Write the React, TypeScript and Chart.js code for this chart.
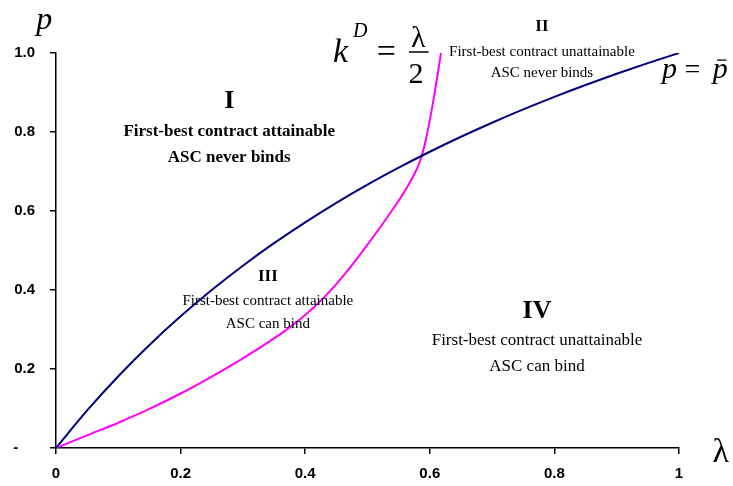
import React, { useEffect, useRef } from "react";
import { Chart, registerables } from "chart.js";

Chart.register(...registerables);

// λ grid and the p = p̄ boundary
const lambdaGrid = [0, 0.05, 0.1, 0.15, 0.2, 0.25, 0.3, 0.35, 0.4, 0.45, 0.5, 0.55, 0.6, 0.65, 0.7, 0.75, 0.8, 0.85, 0.9, 0.95, 1];
const pBarCurve = [0, 0.0952, 0.1818, 0.2609, 0.3333, 0.4, 0.4615, 0.5185, 0.5714, 0.6207, 0.6667, 0.7097, 0.75, 0.7879, 0.8235, 0.8571, 0.8889, 0.9189, 0.9474, 0.9744, 1];

// k^D = λ/2 boundary
const kLambda = [0, 0.05, 0.1, 0.15, 0.2, 0.25, 0.3, 0.35, 0.375, 0.4, 0.425, 0.45, 0.475, 0.5, 0.525, 0.55, 0.565, 0.575, 0.585, 0.595, 0.605, 0.618];
const kCurve = [0, 0.032, 0.064, 0.099, 0.138, 0.181, 0.227, 0.2775, 0.3055, 0.337, 0.373, 0.415, 0.463, 0.515, 0.569, 0.626, 0.664, 0.693, 0.729, 0.79, 0.873, 1.0];

const xTicks = [0, 0.2, 0.4, 0.6, 0.8, 1];
const yTicks = [0, 0.2, 0.4, 0.6, 0.8, 1];

const regionTitles = ["I", "II", "III", "IV"];
const regionLine1 = [
  "First-best contract attainable",
  "First-best contract unattainable",
  "First-best contract attainable",
  "First-best contract unattainable",
];
const regionLine2 = ["ASC never binds", "ASC never binds", "ASC can bind", "ASC can bind"];

const SERIF = '"Liberation Serif", "Times New Roman", serif';
const SANS = '"Liberation Sans", Arial, sans-serif';

const textPlugin = {
  id: "regionText",
  afterDraw(chart: any) {
    const ctx = chart.ctx as CanvasRenderingContext2D;
    const xs = chart.scales.x;
    const ys = chart.scales.y;
    const X = (v: number) => xs.getPixelForValue(v);
    const Y = (v: number) => ys.getPixelForValue(v);
    ctx.save();
    ctx.fillStyle = "#000";
    ctx.strokeStyle = "#000";

    const put = (t: string, x: number, y: number, font: string, align: CanvasTextAlign = "center", base: CanvasTextBaseline = "middle") => {
      ctx.font = font;
      ctx.textAlign = align;
      ctx.textBaseline = base;
      ctx.fillText(t, x, y);
    };

    // region labels
    const places = [
      { x: 0.278, y: [0.878, 0.8, 0.734], f: ["bold 26px", "bold 17px", "bold 17px"] },
      { x: 0.78, y: [1.066, 1.003, 0.949], f: ["bold 17px", "15px", "15px"] },
      { x: 0.34, y: [0.433, 0.372, 0.314], f: ["bold 17px", "15px", "15px"] },
      { x: 0.772, y: [0.347, 0.271, 0.205], f: ["bold 26px", "17px", "17px"] },
    ];
    places.forEach((pl, i) => {
      const lines = [regionTitles[i], regionLine1[i], regionLine2[i]];
      lines.forEach((t, j) => put(t, X(pl.x), Y(pl.y[j]), `${pl.f[j]} ${SERIF}`));
    });

    // axis symbols
    put("p", X(-0.019), Y(1.061), `italic 32px ${SERIF}`, "center", "alphabetic");
    put("λ", X(1.067), Y(-0.035), `34px ${SERIF}`, "center", "alphabetic");

    // k^D = λ/2
    put("k", X(0.4446), Y(0.977), `italic 34px ${SERIF}`, "left", "alphabetic");
    put("D", X(0.4767), Y(1.0405), `italic 20px ${SERIF}`, "left", "alphabetic");
    put("=", X(0.515), Y(0.977), `34px ${SERIF}`, "left", "alphabetic");
    put("λ", X(0.5815), Y(1.015), `30px ${SERIF}`, "center", "alphabetic");
    put("2", X(0.578), Y(0.924), `30px ${SERIF}`, "center", "alphabetic");
    ctx.lineWidth = 1.5;
    ctx.beginPath();
    ctx.moveTo(X(0.5666), Y(1.0025));
    ctx.lineTo(X(0.598), Y(1.0025));
    ctx.stroke();

    // p = p̄
    put("p", X(0.9727), Y(0.937), `italic 30px ${SERIF}`, "left", "alphabetic");
    put("=", X(1.009), Y(0.937), `28px ${SERIF}`, "left", "alphabetic");
    put("p", X(1.054), Y(0.937), `italic 30px ${SERIF}`, "left", "alphabetic");
    ctx.lineWidth = 1.3;
    ctx.beginPath();
    ctx.moveTo(X(1.061), Y(0.982));
    ctx.lineTo(X(1.076), Y(0.982));
    ctx.stroke();

    ctx.restore();
  },
};

export default function App() {
  const ref = useRef<HTMLCanvasElement | null>(null);

  useEffect(() => {
    if (!ref.current) return;
    const fixPad = (s: any) => {
      s.paddingLeft = 0;
      s.paddingRight = 0;
      s.paddingTop = 0;
      s.paddingBottom = 0;
    };
    const chart = new Chart(ref.current, {
      type: "line",
      data: {
        datasets: [
          {
            label: "p = p̄",
            data: lambdaGrid.map((x, i) => ({ x, y: pBarCurve[i] })),
            borderColor: "#000080",
            borderWidth: 2,
            pointRadius: 0,
            cubicInterpolationMode: "monotone",
            fill: false,
          },
          {
            label: "k^D = λ/2",
            data: kLambda.map((x, i) => ({ x, y: kCurve[i] })),
            borderColor: "#FF00FF",
            borderWidth: 2,
            pointRadius: 0,
            cubicInterpolationMode: "monotone",
            fill: false,
          },
        ],
      },
      options: {
        animation: false,
        responsive: false,
        devicePixelRatio: 1,
        layout: { padding: { left: 0, top: 53, right: 54, bottom: 0 } },
        plugins: { legend: { display: false }, tooltip: { enabled: false } },
        scales: {
          x: {
            type: "linear",
            min: 0,
            max: 1,
            afterBuildTicks: (s: any) => {
              s.ticks = xTicks.map((value) => ({ value }));
            },
            afterFit: (s: any) => {
              s.height = 38;
              fixPad(s);
            },
            ticks: {
              padding: 11,
              color: "#000",
              font: { family: SANS, size: 15, weight: "bold" },
              callback: (v: any) => {
                const n = Number(v);
                return n === 0 ? "0" : n === 1 ? "1" : n.toFixed(1);
              },
            },
            grid: { drawOnChartArea: false, drawTicks: true, tickLength: 6, color: "#000", lineWidth: 1.5 },
            border: { display: true, color: "#000", width: 1.5 },
          },
          y: {
            type: "linear",
            min: 0,
            max: 1,
            afterBuildTicks: (s: any) => {
              s.ticks = yTicks.map((value) => ({ value }));
            },
            afterFit: (s: any) => {
              s.width = 56;
              fixPad(s);
            },
            ticks: {
              padding: 15,
              color: "#000",
              font: { family: SANS, size: 15, weight: "bold" },
              callback: (v: any) => {
                const n = Number(v);
                return n === 0 ? "-    " : n.toFixed(1);
              },
            },
            grid: { drawOnChartArea: false, drawTicks: true, tickLength: 6, color: "#000", lineWidth: 1.5 },
            border: { display: true, color: "#000", width: 1.5 },
          },
        },
      },
      plugins: [textPlugin],
    } as any);
    return () => chart.destroy();
  }, []);

  return (
    <div style={{ position: "fixed", left: 0, top: 0, width: 733, height: 486, background: "#fff" }}>
      <canvas ref={ref} width={733} height={486} style={{ display: "block" }} />
    </div>
  );
}
